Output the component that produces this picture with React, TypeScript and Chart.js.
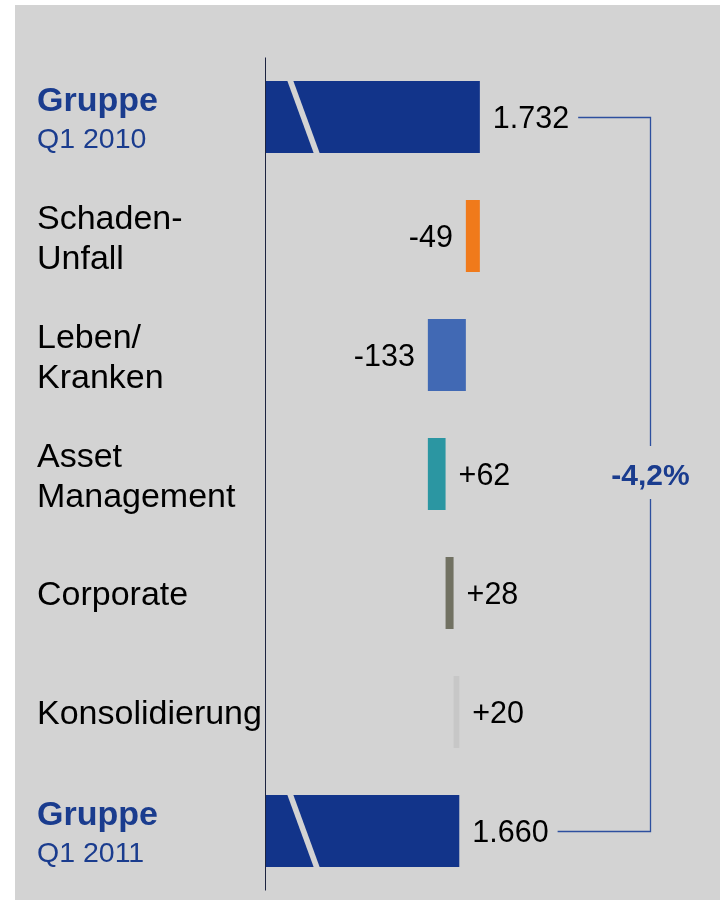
import React, { useEffect, useRef } from "react";
import { Chart, registerables } from "chart.js";

Chart.register(...registerables);

const categoryLines: string[][] = [
  ["Gruppe", "Q1 2010"],
  ["Schaden-", "Unfall"],
  ["Leben/", "Kranken"],
  ["Asset", "Management"],
  ["Corporate"],
  ["Konsolidierung"],
  ["Gruppe", "Q1 2011"],
];
const deltas: number[] = [1732, -49, -133, 62, 28, 20, 1660];
const isTotal: boolean[] = [true, false, false, false, false, false, true];
const barColors: string[] = ["#12348a", "#f07a1b", "#4169b4", "#2b96a2", "#717162", "#c7c7c7", "#12348a"];

const NAVY = "#12348a";
const BLUE_TEXT = "#1a3c8e";
const BG = "#d3d3d3";
const FONT = "'Liberation Sans', Arial, sans-serif";

function fmtThousands(v: number): string {
  const s = Math.abs(v).toString();
  return s.replace(/\B(?=(\d{3})+(?!\d))/g, ".");
}
function fmtLabel(v: number, total: boolean): string {
  if (total) return fmtThousands(v);
  return (v > 0 ? "+" : "-") + fmtThousands(v);
}

// waterfall ranges
const ranges: [number, number][] = (() => {
  const out: [number, number][] = [];
  let run = 0;
  deltas.forEach((d, i) => {
    if (isTotal[i]) {
      out.push([0, d]);
      run = d;
    } else {
      out.push([run, run + d]);
      run += d;
    }
  });
  return out;
})();

const changePct = ((deltas[6] - deltas[0]) / deltas[0]) * 100;
const changeLabel = (changePct < 0 ? "-" : "+") + Math.abs(changePct).toFixed(1).replace(".", ",") + "%";

export default function App() {
  const ref = useRef<HTMLCanvasElement | null>(null);

  useEffect(() => {
    if (!ref.current) return;

    const bgPlugin = {
      id: "bg",
      beforeDraw(chart: any) {
        const ctx = chart.ctx;
        ctx.save();
        ctx.fillStyle = BG;
        ctx.fillRect(15, 5, chart.width - 15, chart.height - 5);
        ctx.restore();
      },
    };

    const overlayPlugin = {
      id: "overlay",
      afterDatasetsDraw(chart: any) {
        const ctx = chart.ctx;
        const ca = chart.chartArea;
        const meta = chart.getDatasetMeta(0);
        const yScale = chart.scales.y;
        ctx.save();
        // axis line
        ctx.strokeStyle = "#1c2340";
        ctx.lineWidth = 1;
        ctx.beginPath();
        ctx.moveTo(Math.round(ca.left) + 0.5, ca.top);
        ctx.lineTo(Math.round(ca.left) + 0.5, ca.bottom);
        ctx.stroke();

        // break slashes on total bars
        meta.data.forEach((el: any, i: number) => {
          if (!isTotal[i]) return;
          const h = el.height;
          const top = el.y - h / 2;
          const bot = el.y + h / 2;
          const L = ca.left;
          ctx.fillStyle = BG;
          ctx.beginPath();
          ctx.moveTo(L + 22, top - 1);
          ctx.lineTo(L + 28, top - 1);
          ctx.lineTo(L + 55, bot + 1);
          ctx.lineTo(L + 49, bot + 1);
          ctx.closePath();
          ctx.fill();
        });

        // value labels
        const valFont = `30.5px ${FONT}`;
        ctx.font = valFont;
        ctx.fillStyle = "#000";
        const labelEnds: number[] = [];
        meta.data.forEach((el: any, i: number) => {
          const left = Math.min(el.x, el.base);
          const right = Math.max(el.x, el.base);
          const text = fmtLabel(deltas[i], isTotal[i]);
          const baseY = el.y + 0.358 * 30.5;
          if (!isTotal[i] && deltas[i] < 0) {
            ctx.textAlign = "right";
            ctx.fillText(text, left - 13, baseY);
            labelEnds.push(left - 13);
          } else {
            ctx.textAlign = "left";
            ctx.fillText(text, right + 13, baseY);
            labelEnds.push(right + 13 + ctx.measureText(text).width);
          }
        });

        // category labels
        ctx.textAlign = "left";
        categoryLines.forEach((lines, i) => {
          const cy = yScale.getPixelForValue(i);
          if (isTotal[i]) {
            ctx.fillStyle = BLUE_TEXT;
            ctx.font = `bold 34px ${FONT}`;
            ctx.fillText(lines[0], 37, cy - 18 + 0.358 * 34);
            ctx.font = `28.5px ${FONT}`;
            ctx.fillText(lines[1], 37, cy + 20.5 + 0.358 * 28.5);
          } else {
            ctx.fillStyle = "#000";
            ctx.font = `34px ${FONT}`;
            if (lines.length === 1) {
              ctx.fillText(lines[0], 37, cy + 0.358 * 34);
            } else {
              ctx.fillText(lines[0], 37, cy - 19.5 + 0.358 * 34);
              ctx.fillText(lines[1], 37, cy + 21 + 0.358 * 34);
            }
          }
        });

        // bracket connector
        const bx = 650.5;
        const y0 = Math.round(meta.data[0].y) + 0.5;
        const y1 = Math.round(meta.data[6].y) + 0.5;
        const midY = yScale.getPixelForValue(3);
        ctx.strokeStyle = "#2d4f9e";
        ctx.lineWidth = 1.3;
        ctx.beginPath();
        ctx.moveTo(labelEnds[0] + 9, y0);
        ctx.lineTo(bx, y0);
        ctx.lineTo(bx, midY - 28);
        ctx.moveTo(bx, midY + 25);
        ctx.lineTo(bx, y1);
        ctx.lineTo(labelEnds[6] + 9, y1);
        ctx.stroke();

        ctx.fillStyle = BLUE_TEXT;
        ctx.font = `bold 30px ${FONT}`;
        ctx.textAlign = "center";
        ctx.fillText(changeLabel, bx, midY + 0.358 * 30);
        ctx.restore();
      },
    };

    const chart = new Chart(ref.current, {
      type: "bar",
      data: {
        labels: categoryLines.map((l) => l.join(" ")),
        datasets: [
          {
            data: ranges as any,
            backgroundColor: barColors,
            borderWidth: 0,
            borderSkipped: false,
            categoryPercentage: 1,
            barPercentage: 0.605,
          },
        ],
      },
      options: {
        indexAxis: "y",
        animation: false,
        responsive: false,
        maintainAspectRatio: false,
        layout: { padding: { left: 265, right: 15, top: 57.5, bottom: 9.5 } },
        plugins: { legend: { display: false }, tooltip: { enabled: false } },
        scales: {
          x: { display: false, min: 980, max: 2520 },
          y: { display: false, offset: true },
        },
      },
      plugins: [bgPlugin, overlayPlugin],
    });
    return () => chart.destroy();
  }, []);

  return (
    <div style={{ position: "absolute", left: 0, top: 0, width: 720, height: 900 }}>
      <canvas ref={ref} width={720} height={900} style={{ display: "block", width: 720, height: 900 }} />
    </div>
  );
}
